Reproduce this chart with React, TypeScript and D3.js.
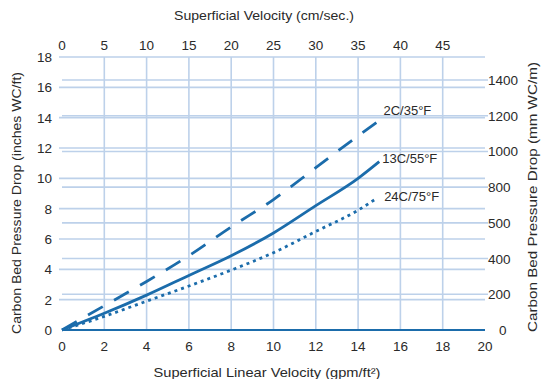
import React from "react";
import * as d3 from "d3";

// bottom axis: gpm/ft², left axis: inches WC/ft
const bottomTicks = [0, 2, 4, 6, 8, 10, 12, 14, 16, 18, 20];
const topTicks = [0, 5, 10, 15, 20, 25, 30, 35, 40, 45];
const leftTicks = [0, 2, 4, 6, 8, 10, 12, 14, 16, 18];
const rightTicks = [0, 200, 400, 600, 800, 1000, 1200, 1400];
const rightLabels = ["0", "200", "400", "500", "800", "1000", "1200", "1400"];

const cold35 = [[0, 0], [2, 1.6], [4, 3.2], [6, 4.9], [8, 6.8], [10, 8.6], [12, 10.7], [14, 12.8], [15.2, 14.0]];
const mid55 = [[0, 0], [2, 1.1], [4, 2.3], [6, 3.6], [8, 4.9], [10, 6.4], [12, 8.2], [14, 10.0], [15, 11.1]];
const warm75 = [[0, 0], [2, 0.9], [4, 1.9], [6, 2.9], [8, 3.95], [10, 5.1], [12, 6.5], [14, 7.9], [14.9, 8.7]];

const series = [
  { name: "2C/35°F", data: cold35, dash: "17,13", dx: 0, dy: -3 },
  { name: "13C/55°F", data: mid55, dash: "none", dx: 3, dy: 1 },
  { name: "24C/75°F", data: warm75, dash: "3,4", dx: 7, dy: 3 },
];

const W = 542;
const H = 379;
const font = "'Liberation Sans', Arial, sans-serif";
const textColor = "#2a2a2a";
const lineColor = "#1b6cab";
const gridColor = "#bdd1ea";

export default function App() {
  const x = d3.scaleLinear().domain([0, 20]).range([62, 485]);
  const xTop = d3.scaleLinear().domain([0, 50]).range([62, 485]);
  const y = d3.scaleLinear().domain([0, 18]).range([330, 57]);
  const yRight = d3.scaleLinear().domain([0, 1400]).range([330, 80]);

  const line = d3
    .line<number[]>()
    .x((d) => x(d[0]))
    .y((d) => y(d[1]))
    .curve(d3.curveMonotoneX);

  return (
    <svg
      width={W}
      height={H}
      style={{ position: "absolute", left: 0, top: 0, background: "#fff" }}
      fontFamily={font}
    >
      <rect width={W} height={H} fill="#fff" />

      {/* grid */}
      {bottomTicks.filter((t) => t > 0 && t < 20).map((t) => (
        <line key={"vx" + t} x1={x(t)} x2={x(t)} y1={y(18)} y2={y(0)} stroke={gridColor} strokeWidth={1.6} />
      ))}
      {leftTicks.filter((t) => t > 0).map((t) => (
        <line key={"hl" + t} x1={59} x2={485} y1={y(t)} y2={y(t)} stroke={gridColor} strokeWidth={1.6} />
      ))}
      {rightTicks.filter((t) => t > 0).map((t) => (
        <line key={"hr" + t} x1={62} x2={488} y1={yRight(t)} y2={yRight(t)} stroke={gridColor} strokeWidth={1.6} />
      ))}

      {/* bottom axis line */}
      <line x1={62} x2={485} y1={y(0)} y2={y(0)} stroke={lineColor} strokeWidth={2} />

      {/* curves */}
      {series.map((s) => (
        <path
          key={s.name}
          d={line(s.data) || ""}
          fill="none"
          stroke={lineColor}
          strokeWidth={2.8}
          strokeDasharray={s.dash}
        />
      ))}
      {series.map((s) => {
        const last = s.data[s.data.length - 1];
        return (
          <text
            key={"lb" + s.name}
            x={x(last[0]) + s.dx}
            y={y(last[1]) + s.dy}
            fontSize={13}
            fill={textColor}
          >
            {s.name}
          </text>
        );
      })}

      {/* tick labels */}
      {bottomTicks.map((t) => (
        <text key={"bt" + t} x={x(t)} y={351} textAnchor="middle" fontSize={13.5} fill={textColor}>
          {t}
        </text>
      ))}
      {topTicks.map((t) => (
        <text key={"tt" + t} x={xTop(t)} y={50} textAnchor="middle" fontSize={13.5} fill={textColor}>
          {t}
        </text>
      ))}
      {leftTicks.map((t) => (
        <text key={"lt" + t} x={52} y={y(t) + 5} textAnchor="end" fontSize={13.5} fill={textColor}>
          {t}
        </text>
      ))}
      {rightTicks.map((t, i) => (
        <text key={"rt" + t} x={t === 0 ? 499 : 488} y={yRight(t) + 5} fontSize={13.5} fill={textColor}>
          {rightLabels[i]}
        </text>
      ))}

      {/* titles */}
      <text x={264} y={20} textAnchor="middle" fontSize={13} fill={textColor} textLength={180} lengthAdjust="spacingAndGlyphs">
        Superficial Velocity (cm/sec.)
      </text>
      <text x={267} y={377} textAnchor="middle" fontSize={13} fill={textColor} textLength={227} lengthAdjust="spacingAndGlyphs">
        Superficial Linear Velocity (gpm/ft²)
      </text>
      <text
        transform="translate(21,203) rotate(-90)"
        textAnchor="middle"
        fontSize={13}
        fill={textColor}
        textLength={262}
        lengthAdjust="spacingAndGlyphs"
      >
        Carbon Bed Pressure Drop (inches WC/ft)
      </text>
      <text
        transform="translate(537,197) rotate(-90)"
        textAnchor="middle"
        fontSize={13}
        fill={textColor}
        textLength={270}
        lengthAdjust="spacingAndGlyphs"
      >
        Carbon Bed Pressure Drop (mm WC/m)
      </text>
    </svg>
  );
}
